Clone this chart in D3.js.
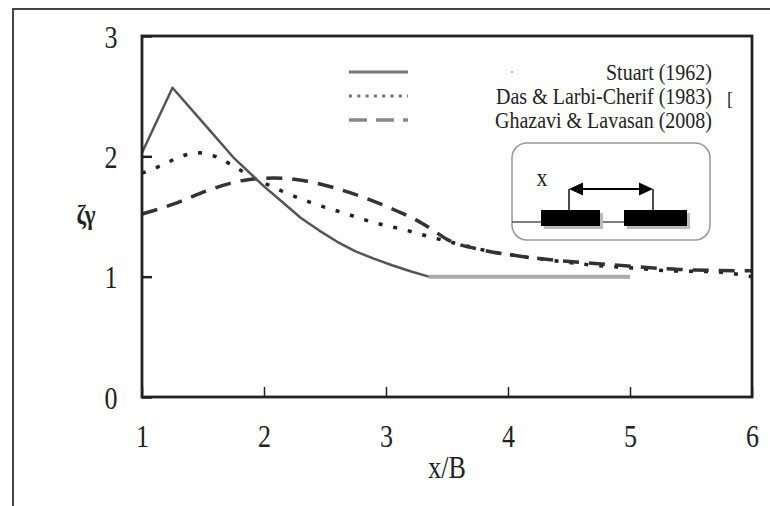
<!DOCTYPE html>
<html>
<head>
<meta charset="utf-8">
<script src="https://cdn.jsdelivr.net/npm/d3@7"></script>
<style>
  html,body{margin:0;padding:0;background:#fff;}
  svg{display:block;}
  text{font-family:"Liberation Serif","Times New Roman",serif;fill:#222;}
</style>
</head>
<body>
<svg id="chart" width="770" height="506"></svg>
<script>
// ---- data ----
const xTicks = [1, 2, 3, 4, 5, 6];
const yTicks = [0, 1, 2, 3];
const xLabel = "x/B";
const yLabel = "ζγ";
const seriesNames = ["Stuart (1962)", "Das & Larbi-Cherif (1983)", "Ghazavi & Lavasan (2008)"];

const stuart = [[1, 2.03], [1.25, 2.57], [1.5, 2.28], [1.75, 1.99], [2, 1.75], [2.15, 1.62],
  [2.3, 1.49], [2.45, 1.385], [2.6, 1.29], [2.75, 1.21], [2.9, 1.15], [3.05, 1.095],
  [3.2, 1.045], [3.35, 1.0]];
const stuartTail = [[3.35, 1.0], [5.0, 1.0]];
const das = [[1, 1.86], [1.15, 1.92], [1.3, 1.99], [1.45, 2.03], [1.6, 2.0], [1.78, 1.9],
  [1.9, 1.83], [2.15, 1.71], [2.4, 1.61], [2.65, 1.53], [2.9, 1.45], [3.15, 1.39],
  [3.4, 1.32], [3.6, 1.27], [3.85, 1.21], [4.1, 1.17], [4.4, 1.13], [4.65, 1.1],
  [5.05, 1.07], [5.3, 1.05], [5.7, 1.04], [6, 1.0]];
const ghazavi = [[1, 1.52], [1.25, 1.6], [1.55, 1.72], [1.83, 1.8], [2.08, 1.82], [2.32, 1.8],
  [2.57, 1.74], [2.84, 1.65], [3.08, 1.55], [3.25, 1.47], [3.38, 1.39], [3.5, 1.31],
  [3.8, 1.22], [4.1, 1.17], [4.35, 1.14], [4.85, 1.1], [5.4, 1.06], [5.9, 1.05], [6, 1.05]];

// ---- layout ----
const svg = d3.select("#chart");
const L = 142, R = 752, T = 36, B = 397;
const x = d3.scaleLinear().domain([1, 6]).range([L, R]);
const y = d3.scaleLinear().domain([0, 3]).range([B, T]);

// outer frame
svg.append("rect").attr("x", 13).attr("y", 9).attr("width", 800).attr("height", 600)
  .attr("fill", "none").attr("stroke", "#444").attr("stroke-width", 2);

// curves
const line = d3.line().x(d => x(d[0])).y(d => y(d[1]));
const smooth = d3.line().x(d => x(d[0])).y(d => y(d[1])).curve(d3.curveMonotoneX);

const g = svg.append("g");
g.append("path").datum(stuartTail).attr("d", line)
  .attr("fill", "none").attr("stroke", "#aaa").attr("stroke-width", 4);
g.append("path").datum(das).attr("d", smooth)
  .attr("fill", "none").attr("stroke", "#222").attr("stroke-width", 3.5)
  .attr("stroke-dasharray", "4,11");
g.append("path").datum(ghazavi).attr("d", smooth)
  .attr("fill", "none").attr("stroke", "#333").attr("stroke-width", 3.5)
  .attr("stroke-dasharray", "16,10");
g.append("path").datum(stuart).attr("d", line)
  .attr("fill", "none").attr("stroke", "#555").attr("stroke-width", 2.5)
  .attr("stroke-linejoin", "round");

// axes (inward ticks)
const xAxis = svg.append("g").attr("transform", `translate(0,${B})`)
  .call(d3.axisBottom(x).tickValues(xTicks).tickSize(-10).tickSizeOuter(0).tickFormat(d3.format("d")));
xAxis.select(".domain").remove();
xAxis.selectAll(".tick line").attr("stroke", "#222").attr("stroke-width", 1.5);
xAxis.selectAll(".tick text")
  .attr("y", null).attr("dy", null)
  .attr("transform", "translate(0,50) scale(1,1.25)")
  .attr("font-size", 26).attr("font-family", "Liberation Serif").attr("fill", "#222");

const yAxis = svg.append("g").attr("transform", `translate(${L},0)`)
  .call(d3.axisLeft(y).tickValues(yTicks).tickSize(-10).tickSizeOuter(0).tickFormat(d3.format("d")));
yAxis.select(".domain").remove();
yAxis.selectAll(".tick line").attr("stroke", "#222").attr("stroke-width", 2.5);
yAxis.selectAll(".tick text")
  .attr("x", null).attr("dy", null).attr("text-anchor", "middle")
  .attr("transform", "translate(-31,11) scale(1,1.25)")
  .attr("font-size", 26).attr("font-family", "Liberation Serif").attr("fill", "#222");

// plot border
svg.append("rect").attr("x", L).attr("y", T).attr("width", R - L).attr("height", B - T)
  .attr("fill", "none").attr("stroke", "#222").attr("stroke-width", 2.8);

// axis titles
svg.append("text").attr("text-anchor", "middle")
  .attr("transform", "translate(447,478) scale(1,1.2)")
  .attr("font-size", 26).text(xLabel);
svg.append("text").attr("text-anchor", "middle")
  .attr("transform", "translate(86,224) scale(1,1.15)")
  .attr("font-size", 23).attr("font-weight", "bold").text(yLabel);

// legend
const legY = [72, 96, 120];
const legStyles = [
  {stroke: "#777", w: 3, dash: null},
  {stroke: "#777", w: 3, dash: "3,5.3"},
  {stroke: "#888", w: 3.5, dash: "18,9"}
];
seriesNames.forEach((name, i) => {
  svg.append("line").attr("x1", 349).attr("x2", 408).attr("y1", legY[i]).attr("y2", legY[i])
    .attr("stroke", legStyles[i].stroke).attr("stroke-width", legStyles[i].w)
    .attr("stroke-dasharray", legStyles[i].dash);
  svg.append("text").attr("text-anchor", "end")
    .attr("transform", `translate(712,${legY[i] + 8}) scale(1,1.13)`)
    .attr("font-size", 20).text(name);
});
svg.append("circle").attr("cx", 512).attr("cy", 72).attr("r", 1).attr("fill", "#999");
svg.append("text").attr("x", 727).attr("y", 105).attr("font-size", 18).attr("fill", "#555").text("[");

// inset diagram
const ins = svg.append("g");
ins.append("rect").attr("x", 512).attr("y", 143).attr("width", 198).attr("height", 97)
  .attr("rx", 15).attr("fill", "#fff").attr("stroke", "#999").attr("stroke-width", 1.5);
ins.append("line").attr("x1", 512).attr("x2", 624).attr("y1", 222).attr("y2", 222)
  .attr("stroke", "#555").attr("stroke-width", 1.3);
[[541, 600], [624, 687]].forEach(([a, b]) => {
  ins.append("rect").attr("x", a + 3).attr("y", 213).attr("width", b - a).attr("height", 16).attr("fill", "#bbb");
  ins.append("rect").attr("x", a).attr("y", 210).attr("width", b - a).attr("height", 16).attr("fill", "#000");
});
ins.append("line").attr("x1", 569).attr("x2", 569).attr("y1", 189).attr("y2", 210).attr("stroke", "#111").attr("stroke-width", 1.5);
ins.append("line").attr("x1", 653).attr("x2", 653).attr("y1", 189).attr("y2", 210).attr("stroke", "#111").attr("stroke-width", 1.5);
ins.append("line").attr("x1", 578).attr("x2", 644).attr("y1", 189).attr("y2", 189).attr("stroke", "#000").attr("stroke-width", 2);
ins.append("path").attr("d", "M569,189 L583,182.5 L583,195.5 Z").attr("fill", "#000");
ins.append("path").attr("d", "M653,189 L639,182.5 L639,195.5 Z").attr("fill", "#000");
ins.append("text").attr("text-anchor", "middle").attr("transform", "translate(542,186) scale(1,1.1)")
  .attr("font-size", 22).text("x");
</script>
</body>
</html>
